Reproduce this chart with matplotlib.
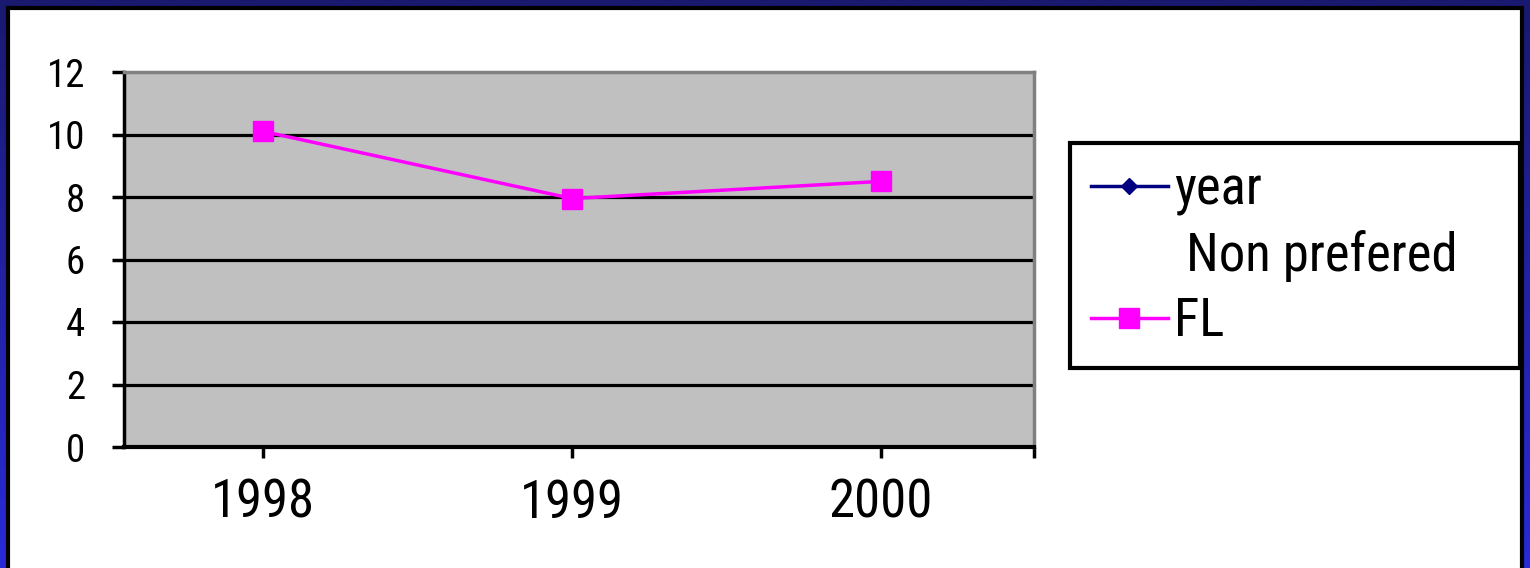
import matplotlib
matplotlib.use('Agg')
import matplotlib.pyplot as plt
import numpy as np
from matplotlib.patches import Rectangle
from matplotlib import font_manager

# pick a condensed face if one is installed
names = {f.name for f in font_manager.fontManager.ttflist}
narrow = [n for n in ['Liberation Sans Narrow', 'DejaVu Sans Condensed', 'Roboto Condensed',
                      'Open Sans Condensed'] if n in names]
plt.rcParams['font.family'] = narrow + ['Liberation Sans', 'DejaVu Sans']
plt.rcParams['font.stretch'] = 'condensed'

# data
years = ['1998', '1999', '2000']
year_series = [1998, 1999, 2000]      # plotted but far above the axis range
fl_series = [10.1, 7.95, 8.5]         # "Non prefered FL"
y_ticks = [0, 2, 4, 6, 8, 10, 12]

fig = plt.figure(figsize=(15.3, 5.68), dpi=100)

# blue frame with gradient + black inner line
bg = fig.add_axes([0, 0, 1, 1])
grad = np.linspace(0, 1, 256).reshape(-1, 1)
cmap = matplotlib.colors.LinearSegmentedColormap.from_list('frame', ['#191970', '#2a2ad8'])
bg.imshow(grad, aspect='auto', cmap=cmap, extent=[0, 1, 0, 1], origin='upper')
bg.add_patch(Rectangle((8 / 1530, -0.02), 1 - 16 / 1530, 1.02 - 8 / 568,
                       facecolor='white', edgecolor='black', linewidth=3))
bg.set_xlim(0, 1)
bg.set_ylim(0, 1)
bg.axis('off')

ax = fig.add_axes([124 / 1530, 1 - 447 / 568, 910 / 1530, 375 / 568])
ax.set_facecolor('#c0c0c0')
x = np.arange(len(years))

ax.plot(x, year_series, color='#000080', linewidth=2.5, marker='D', markersize=8, label='year')
ax.plot([], [], color='none', label=' Non prefered')
ax.plot(x, fl_series, color='#ff00ff', linewidth=2.5, marker='s', markersize=15,
        label='FL', zorder=5)

x_left, x_right = -0.45, 2.495
ax.set_xlim(x_left, x_right)
ax.set_ylim(0, 12)
ax.set_yticks(y_ticks)
ax.set_yticklabels([str(v) for v in y_ticks], fontsize=28)
ax.set_xticks(list(x) + [x_right])
ax.set_xticklabels(years + [''], fontsize=38)

for v in y_ticks[1:-1]:
    ax.axhline(v, color='black', linewidth=2.3, zorder=1)

ax.tick_params(axis='y', direction='out', length=9, width=2.5, pad=19)
ax.tick_params(axis='x', direction='out', length=8, width=2.5, pad=14)

ax.spines['left'].set_linewidth(2.5)
ax.spines['bottom'].set_linewidth(3)
ax.spines['top'].set_color('#808080')
ax.spines['right'].set_color('#808080')
ax.spines['top'].set_linewidth(2.5)
ax.spines['right'].set_linewidth(2.5)

leg = ax.legend(loc='upper left',
                bbox_to_anchor=(1070 / 1530, 1 - 370 / 568, 450 / 1530, 227 / 568),
                bbox_transform=fig.transFigure, mode='expand', fontsize=38,
                frameon=True, framealpha=1, fancybox=False, handlelength=1.45,
                handletextpad=0.12, labelspacing=0.27, borderpad=0.4, borderaxespad=0)
leg.get_frame().set_edgecolor('black')
leg.get_frame().set_linewidth(3)

fig.savefig('out.png', dpi=100, facecolor='white')
